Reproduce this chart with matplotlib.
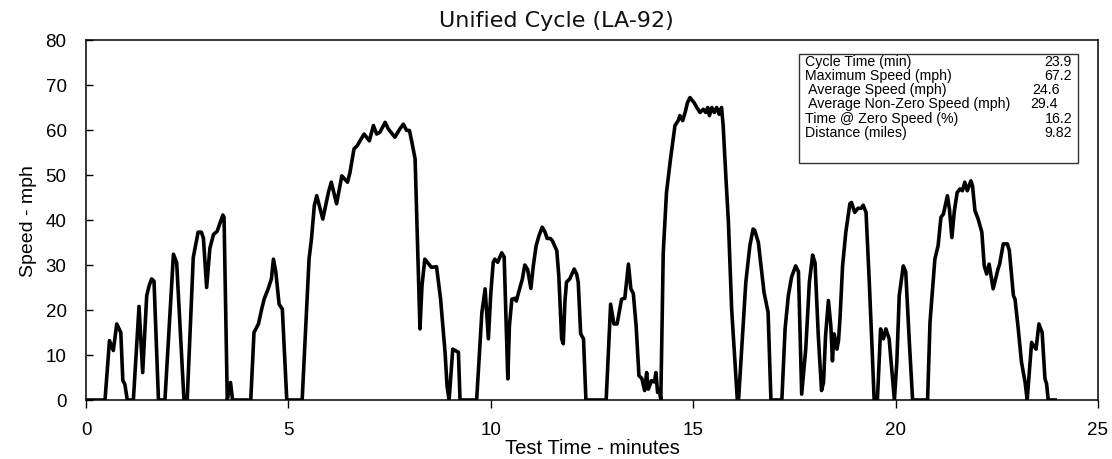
import matplotlib
matplotlib.use("Agg")
import matplotlib.pyplot as plt
from matplotlib.patches import Rectangle

time_min = [0.0, 0.47, 0.58, 0.675, 0.76, 0.86, 0.91, 0.96, 1.02, 1.17, 1.31, 1.40, 1.50, 1.56, 1.62, 1.68, 1.79,
            1.95, 2.16, 2.24, 2.42, 2.50, 2.65, 2.77, 2.85, 2.90, 2.98, 3.06, 3.15, 3.24, 3.38, 3.41, 3.49, 3.57, 3.62,
            4.07, 4.15, 4.26, 4.34, 4.40, 4.50, 4.58, 4.63, 4.69, 4.77, 4.85, 4.96,
            5.34, 5.51, 5.57, 5.64, 5.70, 5.85, 5.99, 6.06, 6.19, 6.32, 6.46, 6.52, 6.62, 6.70, 6.77, 6.87, 7.00,
            7.10, 7.18, 7.26, 7.39, 7.47, 7.63, 7.75, 7.84, 7.92, 7.99, 8.05, 8.13, 8.25, 8.30, 8.37, 8.45, 8.53,
            8.66, 8.76, 8.87, 8.92, 8.97, 9.06, 9.20, 9.24,
            9.65, 9.72, 9.78, 9.86, 9.94, 10.0, 10.06, 10.10, 10.17, 10.27, 10.33, 10.42, 10.46, 10.52, 10.60,
            10.63, 10.72, 10.78, 10.84, 10.91, 10.99, 11.05, 11.12, 11.19, 11.27, 11.34, 11.39, 11.47, 11.52,
            11.63, 11.68, 11.75, 11.79, 11.83, 11.87, 11.95, 12.06, 12.12, 12.16, 12.22, 12.29, 12.35,
            12.85, 12.96, 13.04, 13.12, 13.23, 13.31, 13.40, 13.46, 13.52, 13.59, 13.66, 13.73, 13.80, 13.85,
            13.89, 13.97, 14.04, 14.08, 14.12, 14.16, 14.20,
            14.26, 14.34, 14.44, 14.55, 14.63, 14.67, 14.74, 14.80, 14.86, 14.92, 15.02, 15.09, 15.17, 15.25,
            15.31, 15.36, 15.40, 15.46, 15.52, 15.58, 15.64, 15.70, 15.74, 15.81, 15.87, 15.95, 16.09,
            16.12, 16.30, 16.40, 16.48, 16.52, 16.61, 16.75, 16.85, 16.92,
            17.19, 17.27, 17.35, 17.43, 17.53, 17.60, 17.68, 17.78, 17.87, 17.95, 18.01, 18.09, 18.17, 18.22,
            18.27, 18.34, 18.40, 18.44, 18.48, 18.52, 18.55, 18.59, 18.63, 18.69, 18.77, 18.87, 18.91, 18.99,
            19.07, 19.15, 19.20, 19.27, 19.35, 19.42, 19.47,
            19.55, 19.63, 19.70, 19.76, 19.84, 19.97, 20.03, 20.09, 20.19, 20.25, 20.34, 20.42,
            20.79, 20.85, 20.97, 21.05, 21.12, 21.18, 21.28, 21.33, 21.39, 21.45, 21.52, 21.59, 21.65, 21.71,
            21.77, 21.86, 21.90, 21.96, 22.04, 22.13, 22.19, 22.25, 22.31, 22.41, 22.53, 22.57, 22.66, 22.76,
            22.81, 22.91, 22.95, 23.03, 23.11, 23.20, 23.25, 23.36, 23.47, 23.54, 23.62, 23.69, 23.73, 23.77,
            23.94]

speed_mph = [0, 0, 13.2, 11, 16.9, 15, 4.3, 3.5, 0, 0, 20.8, 6.1, 23.2, 25.4, 26.9, 26.4, 0,
             0, 32.4, 30.5, 0, 0, 31.7, 37.3, 37.3, 36, 25, 33.7, 36.8, 37.5, 41.1, 40.6, 0, 3.9, 0,
             0, 15, 16.9, 20.2, 22.4, 24.7, 26.9, 31.3, 28.4, 21.3, 20.2, 0,
             0, 31.3, 35.8, 43.2, 45.4, 40.2, 46.2, 48.4, 43.6, 49.8, 48.4, 50.5, 55.8, 56.5, 57.6, 59.1, 57.6,
             61, 59.1, 59.5, 61.7, 60.2, 58.4, 60.2, 61.3, 59.9, 59.9, 57.3, 53.6, 15.8, 25.4, 31.3, 30.4, 29.5,
             29.6, 22.4, 10.6, 3, 0, 11.3, 10.6, 0,
             0, 10.6, 19.5, 24.7, 13.6, 23.7, 30.6, 31.3, 30.6, 32.7, 31.8, 4.7, 16.5, 22.4, 22.6,
             22, 25, 26.9, 30, 29, 24.8, 29.8, 34.3, 36.5, 38.4, 37.3, 35.9, 35.9, 35.4,
             33.2, 27.6, 13.6, 12.5, 21.7, 26.2, 26.9, 29.1, 28, 26.2, 14.7, 13.6, 0,
             0, 21.3, 16.9, 16.9, 22.4, 22.6, 30.2, 24.7, 23.7, 16.5, 5.4, 4.8, 2.1, 6.1,
             2.4, 4.3, 4.0, 6.1, 1.7, 2.4, 0,
             32.8, 46.1, 53.6, 61, 62.1, 63.2, 62.1, 63.9, 66.1, 67.2, 66.1, 65, 63.9, 64.6,
             63.9, 65, 63.2, 65, 63.9, 65, 63.5, 65, 61, 49.1, 39.5, 20.2, 0,
             0, 26.2, 34.3, 38, 37.7, 35, 23.9, 19.5, 0,
             0, 15.8, 23.2, 27.3, 29.8, 28.5, 1.3, 11.3, 26.2, 32.2, 30.5, 14.3, 2.1, 3.9,
             14.3, 22.1, 16.5, 8.7, 14.7, 13.2, 11.3, 13.2, 18.7, 29.8, 37.3, 43.6, 43.9, 41.7,
             42.6, 42.6, 43.3, 41.7, 26.2, 11.3, 0,
             0, 15.8, 13.6, 15.8, 13.6, 0, 8.4, 23.2, 29.8, 28.5, 12.8, 0,
             0, 17.3, 31.3, 34.3, 40.6, 41.3, 45.4, 42.4, 36.1, 41.9, 46.1, 46.9, 46.5, 48.4,
             46.5, 48.7, 47.6, 42.1, 40.2, 37.3, 29.8, 28, 30.2, 24.7, 29.1, 30.2, 34.7, 34.7,
             33.2, 23.2, 22.4, 15.8, 8.4, 3.9, 0, 12.8, 11.3, 16.9, 15, 4.7, 3.6, 0,
             0]

stat_labels = ["Cycle Time (min)", "Maximum Speed (mph)", " Average Speed (mph)",
               " Average Non-Zero Speed (mph)", "Time @ Zero Speed (%)", "Distance (miles)"]
stat_values = ["23.9", "67.2", "24.6", "29.4", "16.2", "9.82"]

x_ticks = [0, 5, 10, 15, 20, 25]
y_ticks = [0, 10, 20, 30, 40, 50, 60, 70, 80]

W, H = 1112, 460
fig = plt.figure(figsize=(W / 100, H / 100), dpi=100)
ax = fig.add_axes([86 / W, 1 - 401 / H, (1098 - 86) / W, (401 - 41) / H])

ax.plot(time_min, speed_mph, color="black", linewidth=2.6, solid_joinstyle="round")
ax.set_xlim(0, 25)
ax.set_ylim(0, 80)
ax.set_xticks(x_ticks)
ax.set_yticks(y_ticks)

tick_font = dict(family=["Liberation Sans", "DejaVu Sans"], size=13.5)
ax.set_xticklabels([str(v) for v in x_ticks], **tick_font)
ax.set_yticklabels([str(v) for v in y_ticks], **tick_font)
ax.tick_params(axis="y", direction="in", length=5, width=1, pad=14)
ax.tick_params(axis="x", direction="out", length=6, width=1, pad=9)
for s in ax.spines.values():
    s.set_linewidth(1.1)
    s.set_color("black")

ax.set_xlabel("Test Time - minutes", family=["Liberation Sans"], size=14.5, labelpad=0)
ax.set_ylabel("Speed - mph", family=["Liberation Sans"], size=14, labelpad=6)
fig.text(0.5, 1 - 21 / H, "Unified Cycle (LA-92)", ha="center", va="center",
         family=["DejaVu Sans"], size=16, color="#111111")

# statistics box
box = Rectangle((799 / W, 1 - 164 / H), (1078 - 799) / W, (164 - 55) / H,
                transform=fig.transFigure, facecolor="white", edgecolor="#333333",
                linewidth=1.0, zorder=5)
fig.patches.append(box)
row_y = [62, 76, 90, 104.5, 119, 133]
value_right = [1072, 1072, 1060, 1058, 1072, 1072]
for lab, val, yy, xr in zip(stat_labels, stat_values, row_y, value_right):
    fig.text(805 / W, 1 - yy / H, lab, ha="left", va="center",
             family=["Liberation Sans"], size=10.2, zorder=6)
    fig.text(xr / W, 1 - yy / H, val, ha="right", va="center",
             family=["Liberation Sans"], size=10.2, zorder=6)

fig.savefig("out.png", dpi=100)
